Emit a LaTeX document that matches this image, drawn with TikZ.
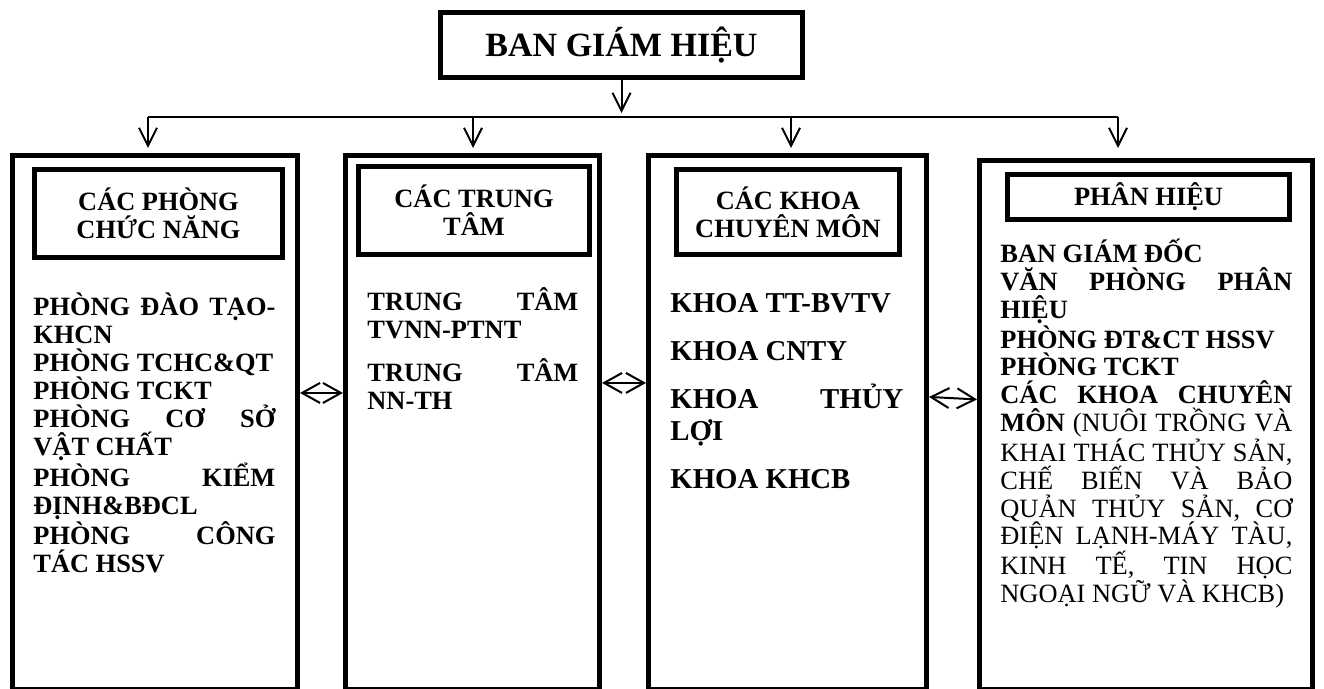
\documentclass[tikz,border=0pt]{standalone}
\usepackage{fontspec}
\setmainfont{Liberation Serif}
\usetikzlibrary{
    arrows.meta,
    positioning
}
\newcommand{\fullline}[1]{\makebox[\hsize][s]{\spaceskip=0pt\xspaceskip=0pt #1}}
\tikzset{
  outer/.style  = {draw, line width=2.5pt, minimum height=267.25pt, inner sep=0pt},
  hdbox/.style  = {draw, line width=2.5pt, align=center, inner sep=0pt,
                   font=\fontsize{13.2}{14}\selectfont\bfseries},
  body/.style   = {anchor=base west, inner sep=0pt, align=justify,
                   font=\fontsize{13.2}{14}\selectfont\bfseries},
  arr/.style    = {-{Straight Barb[length=9pt,width=9pt]}, line width=1pt},
  dblarr/.style = {{Straight Barb[length=9pt,width=10pt]}-{Straight Barb[length=9pt,width=10pt]}, line width=1pt}
}

\begin{document}
\begin{tikzpicture}[x=0.5pt, y=-0.5pt]
\useasboundingbox (0,0) rectangle (1324,689);
\node[draw, line width=2.5pt, minimum width=181pt, minimum height=32.5pt, font=\fontsize{17}{20}\selectfont\bfseries] (bgh) at (621.5,45) {BAN GIÁM HIỆU};
\node[outer, minimum width=142.5pt] (col1) at (155,422.75) {};
\node[outer, minimum width=127pt] (col2) at (472.5,422.75) {};
\node[outer, minimum width=139pt] (col3) at (787.5,422.75) {};
\node[outer, minimum width=166.5pt, minimum height=264.75pt] (col4) at (1146,425.25) {};
\node[hdbox, minimum width=124pt, minimum height=44pt] (hd1) at (158.5,213.5) {CÁC PHÒNG\\CHỨC NĂNG};
\node[hdbox, minimum width=115.5pt, minimum height=44pt] (hd2) at (474,210.5) {CÁC TRUNG\\TÂM};
\node[hdbox, minimum width=111.5pt, minimum height=42.5pt] (hd3) at (788,212) {CÁC KHOA\\CHUYÊN MÔN};
\node[hdbox, minimum width=141pt, minimum height=22.5pt] (hd4) at (1148.5,197) {PHÂN HIỆU};
\node[body, text width=121pt] (txt1) at (33,316) {\fullline{PHÒNG ĐÀO TẠO-}\\KHCN\\\mbox{PHÒNG TCHC\&QT}\\PHÒNG TCKT\\\fullline{PHÒNG CƠ SỞ}\\VẬT CHẤT\\\fullline{PHÒNG KIỂM}\\ĐỊNH\&BĐCL\\\fullline{PHÒNG CÔNG}\\TÁC HSSV};
\node[body, text width=105.5pt] (txt2) at (367,311) {\fullline{TRUNG TÂM}\\TVNN-PTNT\\[7.5pt]\fullline{TRUNG TÂM}\\NN-TH};
\node[body, text width=116.5pt, font=\fontsize{14.4}{16}\selectfont\bfseries] (txt3) at (670,312.5) {\mbox{KHOA TT-BVTV}\\[8pt]KHOA CNTY\\[8pt]\fullline{KHOA THỦY}\\LỢI\\[8pt]KHOA KHCB};
\node[body, text width=146pt, font=\fontsize{13.2}{13.85}\selectfont\bfseries] (txt4) at (1000,263) {BAN GIÁM ĐỐC\\\fullline{VĂN PHÒNG PHÂN}\\HIỆU\\\mbox{PHÒNG ĐT\&CT HSSV}\\PHÒNG TCKT\\\fullline{CÁC KHOA CHUYÊN}\\\fullline{MÔN \mdseries (NUÔI TRỒNG VÀ}\\\fullline{\mdseries KHAI THÁC THỦY SẢN,}\\\fullline{\mdseries CHẾ BIẾN VÀ BẢO}\\\fullline{\mdseries QUẢN THỦY SẢN, CƠ}\\\fullline{\mdseries ĐIỆN LẠNH-MÁY TÀU,}\\\fullline{\mdseries KINH TẾ, TIN HỌC}\\\mbox{\mdseries NGOẠI NGỮ VÀ KHCB)}};
\coordinate (b1) at (148,117);
\coordinate (b2) at (473,117);
\coordinate (b3) at (791,117);
\coordinate (b4) at (1118,117);
\draw[arr, shorten >=2pt] (bgh.south) -- (bgh.south |- b1);
\draw[line width=1pt] (b1) -- (b4);
\draw[arr, shorten >=2.5pt] (b1) -- (b1 |- col1.north);
\draw[arr, shorten >=2.5pt] (b2) -- (b2 |- col2.north);
\draw[arr, shorten >=2.5pt] (b3) -- (b3 |- col3.north);
\draw[arr, shorten >=5pt] (b4) -- (b4 |- col4.north);
\draw[dblarr] ([yshift=14.9pt]col1.east) -- ([yshift=14.9pt]col2.west);
\draw[dblarr] ([yshift=19.9pt]col2.east) -- ([yshift=19.9pt]col3.west);
\draw[dblarr] ([yshift=12.9pt]col3.east) -- ([yshift=12.9pt]col4.west);
\end{tikzpicture}
\end{document}
